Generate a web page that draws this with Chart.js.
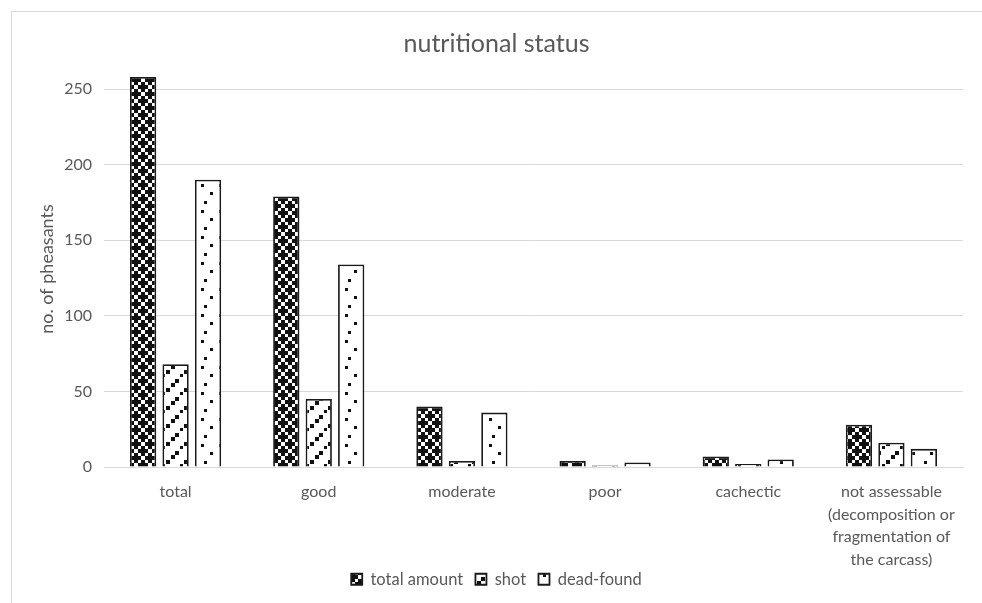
<!DOCTYPE html>
<html>
<head>
<meta charset="utf-8">
<script src="https://cdn.jsdelivr.net/npm/chart.js@4"></script>
<style>
html,body{margin:0;padding:0;background:#fff;}
#wrap{width:982px;height:603px;position:relative;}
</style>
</head>
<body>
<div id="wrap"><canvas id="c" width="982" height="603"></canvas></div>
<script>
const categories = ['total', 'good', 'moderate', 'poor', 'cachectic', ['not assessable', '(decomposition or', 'fragmentation of', 'the carcass)']];
const totalAmount = [258, 179, 40, 4, 7, 28];
const shot = [68, 45, 4, 1, 2, 16];
const deadFound = [190, 134, 36, 3, 5, 12];
const seriesNames = ['total amount', 'shot', 'dead-found'];
const yTicks = [0, 50, 100, 150, 200, 250];

function makePattern(w, h, bg, fg, rects) {
  const cv = document.createElement('canvas');
  cv.width = w; cv.height = h;
  const g = cv.getContext('2d');
  g.fillStyle = bg; g.fillRect(0, 0, w, h);
  g.fillStyle = fg;
  rects.forEach(r => {
    for (let dx = -1; dx <= 1; dx++) for (let dy = -1; dy <= 1; dy++)
      g.fillRect(r[0] + dx * w, r[1] + dy * h, r[2], r[3]);
  });
  return g.createPattern(cv, 'repeat');
}
// plus-shaped crosses on a diagonal lattice
function crossRects(cx, cy) {
  return [[cx - 5, cy - 2, 10, 4], [cx - 2, cy - 5, 4, 10]];
}
const patTotal = makePattern(14, 14, '#fff', '#111', [].concat(crossRects(3, 3), crossRects(10, 10)));
const patShot = makePattern(18, 18, '#fff', '#111', [[13,1,4,4],[9,5,4,4],[4,10,4,4],[0,14,3,3]]);
const patDead = makePattern(18, 26, '#fff', '#111', [[3,2,3,3],[12,10,3,3],[6,19,3,3]]);

const bgPlugin = {
  id: 'bg',
  beforeDraw(chart) {
    const c = chart.ctx;
    c.save();
    c.fillStyle = '#fff';
    c.fillRect(0, 0, chart.width, chart.height);
    c.strokeStyle = '#d9d9d9';
    c.lineWidth = 1;
    c.strokeRect(11.5, 11.5, chart.width + 10, chart.height + 10);
    c.restore();
  }
};

const fontFam = 'Lato, "Noto Sans", sans-serif';
const txt = '#595959';

new Chart(document.getElementById('c'), {
  type: 'bar',
  data: {
    labels: categories,
    datasets: [
      { label: seriesNames[0], data: totalAmount, backgroundColor: patTotal, borderColor: '#1a1a1a', borderWidth: 1.8 },
      { label: seriesNames[1], data: shot, backgroundColor: patShot, borderColor: '#1a1a1a', borderWidth: 1.8 },
      { label: seriesNames[2], data: deadFound, backgroundColor: patDead, borderColor: '#1a1a1a', borderWidth: 1.8 }
    ]
  },
  options: {
    responsive: false,
    animation: false,
    devicePixelRatio: 1,
    layout: { padding: { left: 30, right: 19, top: 0, bottom: 5.5 } },
    datasets: { bar: { categoryPercentage: 0.68, barPercentage: 0.81 } },
    plugins: {
      title: {
        display: true, text: 'nutritional status', color: txt,
        font: { family: fontFam, size: 25, weight: 'normal', lineHeight: 1.2 },
        padding: { top: 29, bottom: 12 }
      },
      legend: {
        position: 'bottom',
        labels: {
          color: txt, boxWidth: 11, boxHeight: 11, padding: 2,
          font: { family: fontFam, size: 16.5 },
          generateLabels(chart) {
            const items = Chart.defaults.plugins.legend.labels.generateLabels(chart);
            items.forEach((it, i) => { if (i < items.length - 1) it.text = it.text + '\u2002\u2009'; });
            return items;
          }
        }
      },
      tooltip: { enabled: false }
    },
    scales: {
      x: {
        afterFit(axis) { axis.height = 102; },
        grid: { display: false, drawTicks: false },
        border: { display: true, color: '#d9d9d9' },
        ticks: { color: txt, font: { family: fontFam, size: 16, lineHeight: 1.406 }, padding: 14, maxRotation: 0, autoSkip: false }
      },
      y: {
        min: 0, max: 262,
        afterBuildTicks(axis) { axis.ticks = yTicks.map(v => ({ value: v })); },
        afterFit(axis) { axis.width = 74; },
        grid: { color: '#d9d9d9', drawTicks: false },
        border: { display: false },
        ticks: { color: txt, font: { family: fontFam, size: 16 }, padding: 12 },
        title: { display: true, text: 'no. of pheasants', color: txt, font: { family: fontFam, size: 18 }, padding: 6 }
      }
    }
  },
  plugins: [bgPlugin]
});
</script>
</body>
</html>
